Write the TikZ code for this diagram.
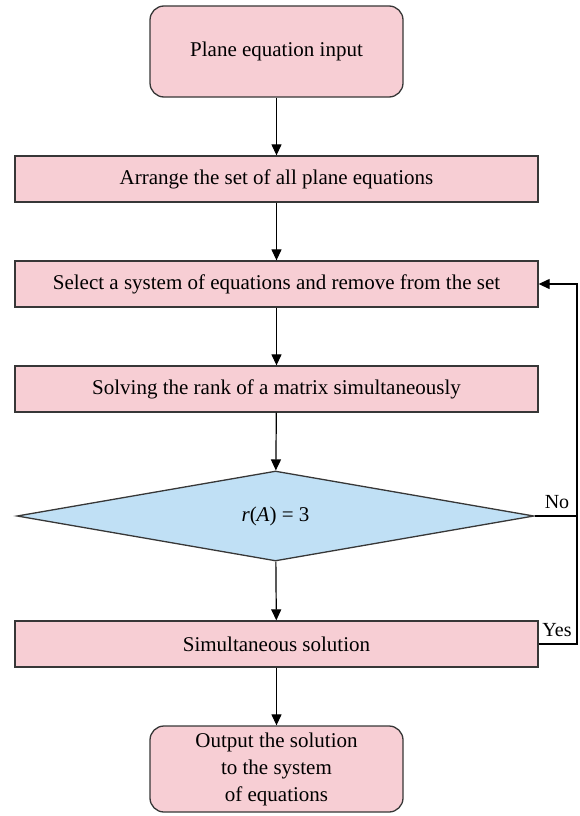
\documentclass[tikz,border=0pt]{standalone}
\usepackage{fontspec}
\setmainfont{Liberation Serif}
\usetikzlibrary{arrows.meta,shapes.geometric}
\definecolor{boxpink}{RGB}{247,206,212}
\definecolor{diablue}{RGB}{192,224,245}
\definecolor{edgegray}{RGB}{55,55,55}
\begin{document}
\begin{tikzpicture}[x=1pt,y=-1pt,
  base/.style={draw=edgegray, line width=1.3pt, fill=boxpink, font=\fontsize{21}{27}\selectfont, inner sep=0pt, align=center},
  rbox/.style={base, rounded corners=14pt, minimum width=253pt, minimum height=91pt},
  sbox/.style={base, minimum width=523pt, minimum height=46pt},
  dia/.style={base, fill=diablue, diamond, minimum width=517pt, minimum height=90pt},
  conn/.style={draw=black, line width=1.2pt, -{Triangle[length=11pt,width=10pt]}},
  plain/.style={draw=black, line width=1.2pt},
  lbl/.style={font=\fontsize{20}{22}\selectfont, inner sep=0pt}]
\useasboundingbox (0,0) rectangle (580,816);
\node[rbox] (n1) at (276.5,51.5) {Plane equation input};
\node[sbox] (n2) at (276.5,179) {Arrange the set of all plane equations};
\node[sbox] (n3) at (276.5,284) {Select a system of equations and remove from the set};
\node[sbox] (n4) at (276.5,389) {Solving the rank of a matrix simultaneously};
\node[dia] (d) at (275.5,516) {\textit{r}(\textit{A}) = 3};
\node[sbox] (n5) at (276.5,644) {Simultaneous solution};
\node[rbox, minimum height=86pt] (n6) at (276.5,769) {Output the solution\\to the system\\of equations};
\coordinate (c1) at (577,644);
\coordinate (c2) at (577,284);
\coordinate (c3) at (577,516);
\draw[conn] (n1) -- (n2);
\draw[conn] (n2) -- (n3);
\draw[conn] (n3) -- (n4);
\draw[conn] (n4) -- (d);
\draw[conn] (d) -- (n5);
\draw[conn] (n5) -- (n6);
\draw[conn] (n5.east) -- (c1) -- (c2) -- (n3.east);
\draw[plain] (d.east) -- (c3);
\node[lbl] (yes) at (557,630) {Yes};
\node[lbl] (no) at (557,502) {No};
\end{tikzpicture}
\end{document}
